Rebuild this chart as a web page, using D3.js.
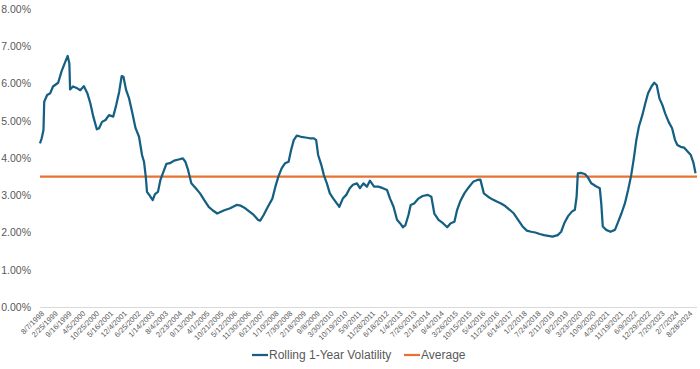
<!DOCTYPE html>
<html>
<head>
<meta charset="utf-8">
<script src="https://cdn.jsdelivr.net/npm/d3@7"></script>
<style>
  html, body { margin: 0; padding: 0; background: #ffffff; }
  svg { display: block; }
</style>
</head>
<body>
<svg id="chart" width="700" height="369"></svg>
<script>
// ---- Data ----
const seriesName = "Rolling 1-Year Volatility";
const averageName = "Average";
const averageValue = 0.035;

const dates = [
"1998-08-07","1998-09-01","1998-09-27","1998-10-08","1998-11-20","1999-01-05","1999-02-14","1999-05-01","1999-06-18","1999-08-04",
"1999-09-17","1999-10-12","1999-10-23","1999-12-05","2000-02-06","2000-03-21","2000-05-11","2000-07-02","2000-08-15","2000-09-28",
"2000-11-18","2000-12-21","2001-02-03","2001-03-26","2001-05-16","2001-07-17","2001-08-30","2001-10-13","2001-11-18","2001-12-14",
"2002-01-23","2002-03-07","2002-04-20","2002-06-10","2002-07-31","2002-09-13","2002-10-12","2002-11-07","2002-11-25","2002-12-28",
"2003-02-17","2003-03-22","2003-05-05","2003-06-10","2003-07-24","2003-09-06","2003-10-27","2003-12-28","2004-03-03","2004-05-05",
"2004-06-10","2004-07-20","2004-09-06","2004-11-10","2005-01-12","2005-03-15","2005-05-19","2005-07-20","2005-09-21","2005-12-25",
"2006-03-30","2006-07-02","2006-09-02","2006-11-07","2007-01-08","2007-03-11","2007-05-12","2007-06-14","2007-08-04","2007-10-05",
"2007-12-10","2008-01-23","2008-03-07","2008-04-24","2008-06-14","2008-08-04","2008-09-09","2008-10-19","2008-12-02","2009-02-03",
"2009-04-09","2009-06-10","2009-08-11","2009-09-13","2009-10-12","2009-11-28","2010-01-04","2010-02-17","2010-04-02","2010-05-23",
"2010-07-13","2010-08-19","2010-10-09","2010-11-29","2011-01-19","2011-03-07","2011-05-05","2011-06-18","2011-08-08","2011-09-28",
"2011-11-11","2012-01-11","2012-03-14","2012-05-19","2012-07-20","2012-09-02","2012-10-23","2012-12-13","2013-01-26","2013-03-11",
"2013-04-16","2013-05-30","2013-07-02","2013-08-22","2013-10-23","2013-12-24","2014-03-11","2014-05-01","2014-06-14","2014-08-15",
"2014-10-19","2014-12-20","2015-02-09","2015-04-05","2015-05-15","2015-06-28","2015-08-29","2015-10-30","2016-01-04","2016-03-07",
"2016-04-20","2016-06-10","2016-08-11","2016-10-12","2016-12-16","2017-02-17","2017-04-20","2017-06-24","2017-08-25","2017-10-26",
"2017-12-28","2018-03-03","2018-05-05","2018-07-05","2018-09-09","2018-11-10","2019-01-12","2019-03-15","2019-05-31","2019-07-20",
"2019-09-09","2019-10-30","2019-12-24","2020-02-06","2020-03-03","2020-03-21","2020-05-01","2020-07-02","2020-08-15","2020-10-05",
"2020-12-06","2021-02-06","2021-02-28","2021-03-22","2021-05-12","2021-07-13","2021-09-17","2021-10-31","2021-12-21","2022-02-10",
"2022-03-29","2022-05-12","2022-06-18","2022-07-28","2022-09-03","2022-10-24","2022-12-07","2023-01-16","2023-03-08","2023-04-17",
"2023-05-23","2023-07-02","2023-08-15","2023-09-24","2023-11-14","2024-01-04","2024-02-17","2024-03-21","2024-05-08","2024-06-28",
"2024-08-22","2024-10-05","2024-11-14","2024-12-13"
];

const volatility = [
4.39,4.53,4.75,5.51,5.69,5.74,5.92,6.02,6.32,6.54,
6.74,6.54,5.84,5.92,5.87,5.82,5.93,5.74,5.47,5.11,
4.77,4.80,4.97,5.02,5.15,5.11,5.42,5.78,6.20,6.18,
5.82,5.60,5.24,4.80,4.57,4.08,3.90,3.50,3.09,3.01,
2.87,3.03,3.09,3.41,3.63,3.84,3.86,3.93,3.96,3.99,
3.90,3.68,3.32,3.19,3.05,2.87,2.69,2.59,2.51,2.59,
2.65,2.74,2.72,2.65,2.56,2.47,2.34,2.32,2.47,2.69,
2.91,3.23,3.50,3.72,3.86,3.90,4.21,4.48,4.60,4.57,
4.55,4.53,4.53,4.48,4.08,3.81,3.54,3.32,3.05,2.91,
2.78,2.69,2.91,3.01,3.19,3.28,3.32,3.19,3.32,3.23,
3.39,3.23,3.23,3.19,3.14,2.91,2.69,2.34,2.25,2.14,
2.20,2.47,2.74,2.78,2.91,2.98,3.01,2.96,2.51,2.34,
2.25,2.14,2.25,2.29,2.61,2.83,3.05,3.21,3.36,3.41,
3.42,3.05,2.96,2.89,2.83,2.78,2.71,2.61,2.51,2.34,
2.17,2.05,2.02,2.00,1.96,1.93,1.91,1.89,1.93,2.02,
2.27,2.44,2.56,2.61,2.96,3.59,3.60,3.57,3.48,3.32,
3.25,3.19,2.78,2.16,2.07,2.02,2.07,2.27,2.51,2.78,
3.14,3.52,3.95,4.48,4.84,5.15,5.47,5.74,5.92,6.02,
5.96,5.60,5.42,5.20,4.97,4.80,4.48,4.35,4.30,4.28,
4.17,4.08,3.86,3.59
];

const yTicks = [0, 0.01, 0.02, 0.03, 0.04, 0.05, 0.06, 0.07, 0.08];

const xTickLabels = [
"8/7/1998","2/25/1999","9/16/1999","4/5/2000","10/25/2000","5/16/2001","12/4/2001","6/25/2002",
"1/14/2003","8/4/2003","2/23/2004","9/13/2004","4/1/2005","10/21/2005","5/12/2006","11/30/2006",
"6/21/2007","1/10/2008","7/30/2008","2/18/2009","9/8/2009","3/30/2010","10/19/2010","5/9/2011",
"11/28/2011","6/18/2012","1/4/2013","7/26/2013","2/14/2014","9/4/2014","3/26/2015","10/15/2015",
"5/4/2016","11/23/2016","6/14/2017","1/2/2018","7/24/2018","2/11/2019","9/2/2019","3/23/2020",
"10/9/2020","4/30/2021","11/19/2021","6/9/2022","12/29/2022","7/20/2023","2/7/2024","8/28/2024"
];

const domainStart = "1998-08-07";
const domainEnd = "2024-12-20";

// ---- Drawing ----
(function () {
const svg = d3.select("#chart");
const parseISO = d3.utcParse("%Y-%m-%d");
const parseUS = d3.utcParse("%m/%d/%Y");

const data = dates.map((d, i) => ({ date: parseISO(d), value: volatility[i] / 100 }));
const tickDates = xTickLabels.map(s => parseUS(s));

const m = { left: 40, right: 696, top: 9, bottom: 307 };

const x = d3.scaleUtc()
  .domain([parseISO(domainStart), parseISO(domainEnd)])
  .range([m.left, m.right]);

const y = d3.scaleLinear()
  .domain([0, 0.08])
  .range([m.bottom, m.top]);

const textColor = "#595959";
const fontFamily = "'Liberation Sans', Arial, sans-serif";

// Y axis (labels only)
const yAxis = svg.append("g")
  .attr("transform", `translate(${m.left - 6},0)`)
  .call(d3.axisLeft(y).tickValues(yTicks).tickFormat(d3.format(".2%")).tickSize(0));
yAxis.select(".domain").remove();
yAxis.selectAll("text")
  .attr("fill", textColor)
  .style("font-family", fontFamily)
  .style("font-size", "10.5px");

// X axis
const xAxis = svg.append("g")
  .attr("transform", `translate(0,${m.bottom})`)
  .call(d3.axisBottom(x).tickValues(tickDates)
    .tickFormat((d, i) => xTickLabels[i]).tickSize(0).tickSizeOuter(0));
xAxis.select(".domain")
  .attr("stroke", "#d9d9d9")
  .attr("stroke-width", 1)
  .attr("d", `M${m.left},0.5H${m.right + 1}`);
xAxis.selectAll("text")
  .attr("fill", textColor)
  .style("font-family", fontFamily)
  .style("font-size", "7.5px")
  .attr("text-anchor", "end")
  .attr("dx", 0)
  .attr("dy", 0)
  .attr("transform", "translate(2,5) rotate(-45)");

// Average line
svg.append("line")
  .attr("x1", m.left).attr("x2", m.right + 1)
  .attr("y1", y(averageValue)).attr("y2", y(averageValue))
  .attr("stroke", "#E97132")
  .attr("stroke-width", 2.25);

// Volatility line
const line = d3.line()
  .x(d => x(d.date))
  .y(d => y(d.value))
  .curve(d3.curveLinear);

svg.append("path")
  .datum(data)
  .attr("fill", "none")
  .attr("stroke", "#156082")
  .attr("stroke-width", 2.25)
  .attr("stroke-linejoin", "round")
  .attr("d", line);

// Legend
const legend = svg.append("g").attr("transform", "translate(0,355)");
const items = [
  { name: seriesName, color: "#156082", x: 252 },
  { name: averageName, color: "#E97132", x: 404 }
];
items.forEach(it => {
  legend.append("line")
    .attr("x1", it.x).attr("x2", it.x + 16)
    .attr("y1", 0).attr("y2", 0)
    .attr("stroke", it.color).attr("stroke-width", 2.25);
  legend.append("text")
    .attr("x", it.x + 17)
    .attr("y", 0)
    .attr("dy", "0.35em")
    .attr("fill", textColor)
    .style("font-family", fontFamily)
    .style("font-size", "12px")
    .text(it.name);
});
})();
</script>
</body>
</html>
